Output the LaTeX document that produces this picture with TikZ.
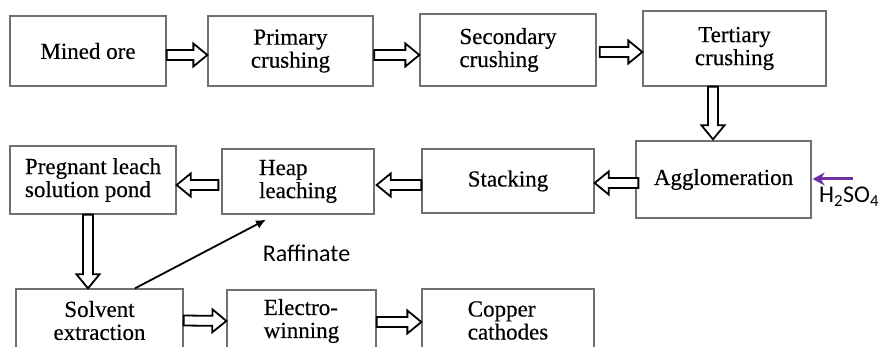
\documentclass[tikz,border=0pt]{standalone}
\usepackage{fontspec}
\setmainfont{Liberation Serif}[FakeBold=0.4]
\newfontfamily\calib{Carlito}
\usetikzlibrary{calc,arrows.meta}
\definecolor{boxgray}{HTML}{707070}
\definecolor{acidpurple}{HTML}{7030A0}
\begin{document}
\begin{tikzpicture}[x=1pt,y=-1pt,
  box/.style={draw=boxgray, line width=1.3pt, rectangle, inner sep=0pt,
    font=\fontsize{23}{23}\selectfont},
  blk/.style={draw=black, line width=1.8pt, fill=white, line join=miter,
    to path={let \p1=($(\tikztotarget)!14pt!(\tikztostart)$) in
      ($(\tikztostart)!5pt!90:(\tikztotarget)$) --
      ($(\p1)!5pt!90:(\tikztotarget)$) --
      ($(\p1)!11.5pt!90:(\tikztotarget)$) --
      (\tikztotarget) --
      ($(\p1)!11.5pt!-90:(\tikztotarget)$) --
      ($(\p1)!5pt!-90:(\tikztotarget)$) --
      ($(\tikztostart)!5pt!-90:(\tikztotarget)$) -- cycle}},
  thin/.style={draw=black, line width=1.8pt, -{Latex[length=10pt,width=9pt]}},
  acid/.style={draw=acidpurple, line width=3pt, -{Stealth[length=12pt,width=13pt]}},
  lbl/.style={font=\calib\fontsize{24}{24}\selectfont, inner sep=0pt}
]
\clip (0,0) rectangle (884,347);
% row 1
\node[box, minimum width=156pt, minimum height=70pt] (mined) at (88,51) {Mined ore};
\node[box, minimum width=165pt, minimum height=70pt, align=center] (primary) at (290.5,51) {Primary\\crushing};
\node[box, minimum width=176pt, minimum height=72pt, align=left] (secondary) at (508,50) {Secondary\\crushing};
\node[box, minimum width=183pt, minimum height=75pt, align=center] (tertiary) at (734.5,48.5) {Tertiary\\crushing};
% row 2
\node[box, minimum width=175pt, minimum height=77pt] (agglom) at (723.5,179.5) {Agglomeration};
\node[box, minimum width=172pt, minimum height=64pt] (stacking) at (508,181) {Stacking};
\node[box, minimum width=152pt, minimum height=65pt, align=left] (heap) at (298,181.5) {Heap\\leaching};
\node[box, minimum width=166pt, minimum height=68pt, align=left] (preg) at (93,180) {Pregnant leach\\solution pond};
% row 3
\node[box, minimum width=167pt, minimum height=63pt, align=center] (solvent) at (99.5,320.5) {Solvent\\extraction};
\node[box, minimum width=149pt, minimum height=62pt, align=left] (electro) at (301.5,321) {Electro-\\winning};
\node[box, minimum width=172pt, minimum height=63pt, align=left] (copper) at (508,320.5) {Copper\\cathodes};
% block arrows
\draw[blk] ([yshift=-4pt]mined.east) to ([yshift=-4pt]primary.west);
\draw[blk] ([xshift=0.5pt,yshift=-4pt]primary.east) to ([yshift=-5pt]secondary.west);
\draw[blk] ([xshift=3pt,yshift=-2pt]secondary.east) to ([yshift=-3.5pt]tertiary.west);
\draw[blk] ([xshift=-21.5pt]tertiary.south) to ([xshift=-10.5pt,yshift=1pt]agglom.north);
\draw[blk] ([xshift=3pt,yshift=-3.5pt]agglom.west) to ([yshift=-2pt]stacking.east);
\draw[blk] ([yshift=-4pt]stacking.west) to ([xshift=2pt,yshift=-3.5pt]heap.east);
\draw[blk] ([xshift=-3pt,yshift=-3.5pt]heap.west) to ([yshift=-5pt]preg.east);
\draw[blk] ([xshift=-5pt]preg.south) to ([xshift=-11.5pt]solvent.north);
\draw[blk] (solvent.east) to (electro.west);
\draw[blk] ([yshift=-1pt]electro.east) to ([yshift=-1.5pt]copper.west);
% raffinate
\draw[thin] ([xshift=35.5pt]solvent.north) to ([xshift=-32pt,yshift=-5pt]heap.south);
\node[lbl, anchor=base] (raff) at (306.5,262) {Raffinate};
% acid
\coordinate (acidin) at (853,179);
\draw[acid] (acidin) to ([xshift=1pt,yshift=0.5pt]agglom.east);
\node[lbl, anchor=base west] (acidlbl) at (819,203) {H\textsubscript{2}SO\textsubscript{4}};
\end{tikzpicture}
\end{document}
